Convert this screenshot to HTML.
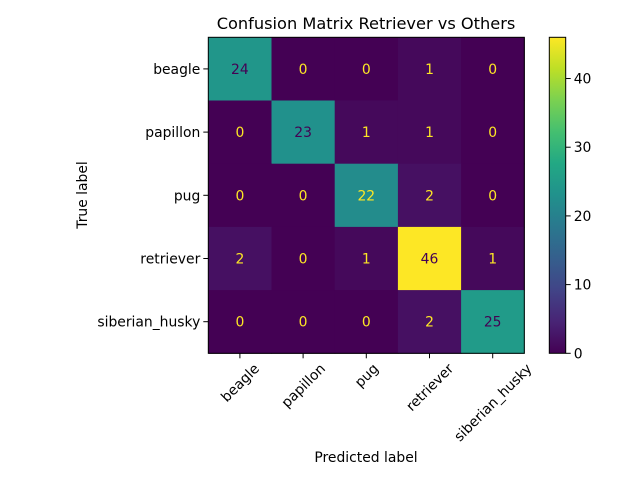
<!DOCTYPE html>
<html><head><meta charset="utf-8"><style>
body{margin:0;background:#fff}
svg text{font-family:"DejaVu Sans","Liberation Sans",sans-serif}
</style></head><body>
<svg id="c" width="640" height="480" xmlns="http://www.w3.org/2000/svg"></svg>
<script>
const labels=["beagle","papillon","pug","retriever","siberian_husky"];
const matrix=[[24,0,0,1,0],[0,23,1,1,0],[0,0,22,2,0],[2,0,1,46,1],[0,0,0,2,25]];
const cbTicks=[0,10,20,30,40];
const vmin=0,vmax=46;
const V=["#440154","#482475","#414487","#355f8d","#2a788e","#21918c","#22a884","#44bf70","#7ad151","#bddf26","#fde725"];
function hx(h){return[1,3,5].map(i=>parseInt(h.substr(i,2),16));}
function vir(t){t=Math.max(0,Math.min(1,t));const p=t*10,i=Math.min(9,Math.floor(p)),f=p-i;const a=hx(V[i]),b=hx(V[i+1]);return`rgb(${a.map((v,k)=>Math.round(v+(b[k]-v)*f)).join(",")})`;}
const L=208.3,T=37.3,S=316/5;
const xs=i=>L+S*(i+0.5), ys=i=>T+S*(i+0.5);
const svg=document.getElementById('c');const NS="http://www.w3.org/2000/svg";
function el(t,a,txt){const e=document.createElementNS(NS,t);for(const k in a)e.setAttribute(k,a[k]);if(txt!==undefined)e.textContent=txt;svg.appendChild(e);return e;}
matrix.forEach((row,r)=>row.forEach((v,c)=>{
const e=el('rect',{x:L+S*c,y:T+S*r,width:S+0.5,height:S+0.5,fill:vir((v-vmin)/(vmax-vmin))});


const t=el('text',{x:xs(c),y:ys(r)+5,'text-anchor':'middle','font-size':'13.9',fill:v<(vmax+vmin)/2?"#fde725":"#440154"},v);


}));
el('rect',{x:L,y:T,width:316,height:316,fill:'none',stroke:'#000','stroke-width':1,});
labels.forEach((l,i)=>{
el('line',{x1:xs(i),x2:xs(i),y1:T+316,y2:T+321,stroke:'#000'});
const tx=el('text',{x:0,y:0,'text-anchor':'middle','font-size':'13.9'},l);
const w=tx.getComputedTextLength(),h=13;
const cyy=T+324+(w+h)*0.7071/2;
tx.setAttribute('transform',`translate(${xs(i)},${cyy}) rotate(-45) translate(0,5)`);


el('line',{x1:L-5,x2:L,y1:ys(i),y2:ys(i),stroke:'#000'});
const ty=el('text',{x:L-8,y:ys(i)+5,'text-anchor':'end','font-size':'13.9'},l);


});
el('text',{x:366,y:29,'text-anchor':'middle','font-size':'16.2',},'Confusion Matrix Retriever vs Others');
el('text',{x:366,y:462,'text-anchor':'middle','font-size':'13.9',},'Predicted label');
el('text',{transform:'translate(87,195) rotate(-90)','text-anchor':'middle','font-size':'13.9',},'True label');
const CX=549.3,CW=16.4,CT=37.3,CB=353.3;
const g=document.createElementNS(NS,'linearGradient');g.setAttribute('id','vg');g.setAttribute('x1','0');g.setAttribute('y1','1');g.setAttribute('x2','0');g.setAttribute('y2','0');
V.forEach((c,i)=>{const s=document.createElementNS(NS,'stop');s.setAttribute('offset',i/10);s.setAttribute('stop-color',c);g.appendChild(s);});
const d=document.createElementNS(NS,'defs');d.appendChild(g);svg.appendChild(d);
el('rect',{x:CX,y:CT,width:CW,height:CB-CT,fill:'url(#vg)',stroke:'#000','stroke-width':1,});
const cy=v=>CB-(v-vmin)/(vmax-vmin)*(CB-CT);
cbTicks.forEach(v=>{
el('line',{x1:CX+CW,x2:CX+CW+5,y1:cy(v),y2:cy(v),stroke:'#000'});
const t=el('text',{x:CX+CW+8,y:cy(v)+5,'font-size':'13.9'},v);


});
</script>
</body></html>
